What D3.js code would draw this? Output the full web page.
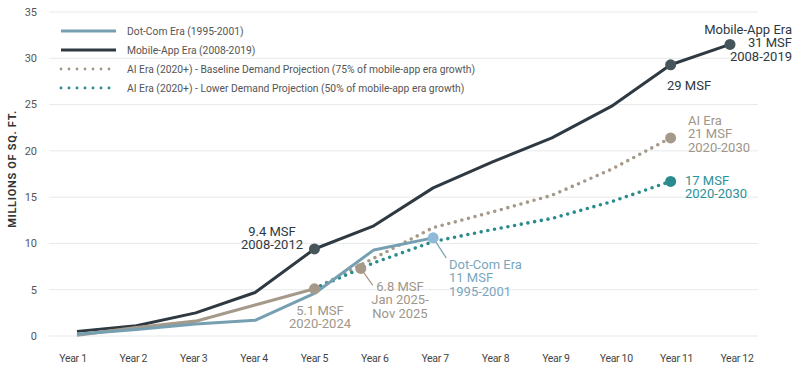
<!DOCTYPE html>
<html><head><meta charset="utf-8">
<script src="https://cdn.jsdelivr.net/npm/d3@7"></script>
<style>body{margin:0;background:#fff}svg{display:block}text{font-family:Roboto,"Open Sans",sans-serif}</style>
</head><body><svg id="c" width="800" height="371"></svg>
<script>
const years = ["Year 1","Year 2","Year 3","Year 4","Year 5","Year 6","Year 7","Year 8","Year 9","Year 10","Year 11","Year 12"];
const yTicks = [0,5,10,15,20,25,30,35];
const mobileApp = [0.5,1.1,2.5,4.7,9.4,11.9,16.0,18.8,21.4,24.8,29.3,31.5];
const dotCom = [0.2,0.7,1.3,1.7,4.6,9.3,10.6];
const aiActual = [0.1,0.9,1.6,3.35,5.1];
const aiBaseline = [null,null,null,null,5.1,8.4,11.7,13.4,15.2,18.0,21.4];
const aiLower = [null,null,null,null,5.1,7.9,10.2,11.5,12.7,14.5,16.7];
const aiLatest = {x:5.78, v:7.3};
const legendLabels = ["Dot-Com Era (1995-2001)","Mobile-App Era (2008-2019)","AI Era (2020+) - Baseline Demand Projection (75% of mobile-app era growth)","AI Era (2020+) - Lower Demand Projection (50% of mobile-app era growth)"];

const C = {dark:"#2e3942", dotDark:"#46555a", blue:"#76a0b2", blueDot:"#8fb9d6", blueText:"#7aa6bd", taupe:"#a5998a", taupeText:"#a0968a", teal:"#2a8b8f", tealText:"#2a9297", grid:"#e7e9ea", tick:"#555"};

const svg = d3.select("#c");
const x = d3.scaleLinear().domain([1,12]).range([77,730]);
const xl = d3.scaleLinear().domain([1,12]).range([73,737]);
const y = d3.scaleLinear().domain([0,35]).range([336,12]);

// grid
svg.append("g").selectAll("line").data(yTicks).join("line")
  .attr("x1",49).attr("x2",758).attr("y1",d=>y(d)).attr("y2",d=>y(d))
  .attr("stroke",C.grid).attr("stroke-width",1);
svg.append("g").selectAll("text").data(yTicks).join("text")
  .attr("x",37).attr("y",d=>y(d)).attr("dy","0.35em").attr("text-anchor","end")
  .attr("font-size",11).attr("fill",C.tick).text(d=>d);
svg.append("g").selectAll("text").data(years).join("text")
  .attr("x",(d,i)=>xl(i+1)).attr("y",358).attr("dy","0.35em").attr("text-anchor","middle")
  .attr("font-size",10.5).attr("fill","#444").attr("letter-spacing",-0.3).text(d=>d);
svg.append("text").attr("transform","translate(12,169) rotate(-90)").attr("text-anchor","middle")
  .attr("dy","0.35em").attr("font-size",11).attr("font-weight",700).attr("letter-spacing",0.7)
  .attr("fill","#333").text("MILLIONS OF SQ. FT.");

const line = d3.line().defined(d=>d!=null).x((d,i)=>x(i+1)).y(d=>y(d));

svg.append("path").datum(mobileApp).attr("d",line).attr("fill","none").attr("stroke",C.dark).attr("stroke-width",3).attr("stroke-linejoin","round");
svg.append("path").datum(aiActual).attr("d",line).attr("fill","none").attr("stroke",C.taupe).attr("stroke-width",3.2).attr("stroke-linejoin","round");
svg.append("path").datum(aiBaseline).attr("d",line).attr("fill","none").attr("stroke",C.taupe).attr("stroke-width",3.6).attr("stroke-linecap","round").attr("stroke-dasharray","0 6.8");
svg.append("path").datum(aiLower).attr("d",line).attr("fill","none").attr("stroke",C.teal).attr("stroke-width",3.6).attr("stroke-linecap","round").attr("stroke-dasharray","0 6.8");
svg.append("path").datum(dotCom).attr("d",line).attr("fill","none").attr("stroke",C.blue).attr("stroke-width",3).attr("stroke-linejoin","round");

// leader lines
function leader(x1,y1,x2,y2,col){svg.append("line").attr("x1",x1).attr("y1",y1).attr("x2",x2).attr("y2",y2).attr("stroke",col).attr("stroke-width",1.2);}
leader(x(aiLatest.x),y(aiLatest.v),x(aiLatest.x)+12,y(aiLatest.v)+17,C.taupe);
leader(x(7),y(dotCom[6]),x(7)+13,y(dotCom[6])+20,C.blue);

// dots
function dot(cx,cy,r,col){svg.append("circle").attr("cx",cx).attr("cy",cy).attr("r",r).attr("fill",col);}
dot(x(5),y(mobileApp[4]),5.5,C.dotDark);
dot(x(11),y(mobileApp[10]),5.5,C.dotDark);
dot(x(12),y(mobileApp[11]),5.5,C.dotDark);
dot(x(5),y(aiActual[4]),5.5,C.taupe);
dot(x(aiLatest.x),y(aiLatest.v),5.5,C.taupe);
dot(x(7),y(dotCom[6]),5.5,C.blueDot);
dot(x(11),y(aiBaseline[10]),5.5,C.taupe);
dot(x(11),y(aiLower[10]),5.5,C.teal);

// annotations
function ann(tx,ty,lines,col,anchor){
  const t=svg.append("text").attr("font-size",13).attr("fill",col).attr("text-anchor",anchor||"start");
  lines.forEach((s,i)=>t.append("tspan").attr("x",tx).attr("y",ty+i*13.5).attr("dy","0.35em").text(s));
}
ann(272,231,["9.4 MSF","2008-2012"],C.dark,"middle");
ann(320,310,["5.1 MSF","2020-2024"],C.taupeText,"middle");
ann(400,286,["6.8 MSF","Jan 2025-","Nov 2025"],C.taupeText,"middle");
ann(449,264,["Dot-Com Era","11 MSF","1995-2001"],C.blueText,"start");
ann(792,29,["Mobile-App Era","31 MSF","2008-2019"],C.dark,"end");
ann(667,85,["29 MSF"],C.dark,"start");
ann(688,120,["AI Era","21 MSF","2020-2030"],C.taupeText,"start");
ann(685,180,["17 MSF","2020-2030"],C.tealText,"start");

// legend
const legStyles=[{c:C.blue,d:null,w:3},{c:C.dark,d:null,w:3},{c:C.taupe,d:"0 8",w:2.8},{c:C.teal,d:"0 8",w:2.8}];
const legY=[31,50,69,88];
const lg=svg.append("g");
legendLabels.forEach((s,i)=>{
  lg.append("line").attr("x1",61).attr("x2",116).attr("y1",legY[i]).attr("y2",legY[i])
    .attr("stroke",legStyles[i].c).attr("stroke-width",legStyles[i].w)
    .attr("stroke-dasharray",legStyles[i].d).attr("stroke-linecap",legStyles[i].d?"round":"butt");
  lg.append("text").attr("x",127).attr("y",legY[i]).attr("dy","0.35em").attr("font-size",10.3).attr("fill","#555").text(s);
});
</script></body></html>
